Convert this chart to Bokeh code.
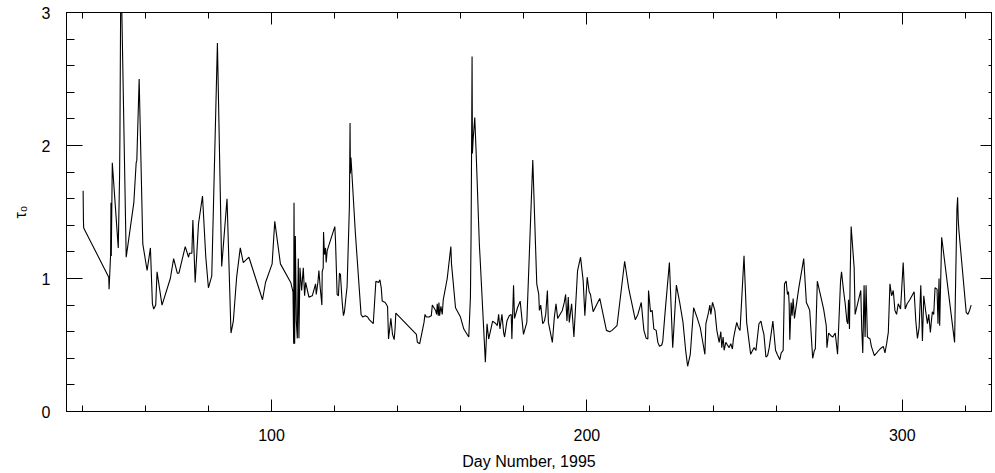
from bokeh.plotting import figure
from bokeh.models import LinearAxis, SingleIntervalTicker, Range1d, CustomLabelingPolicy
from bokeh.embed import file_html
from bokeh.resources import INLINE

days = [
    40.27, 40.37, 40.45, 48.40, 48.50, 48.99, 49.10, 49.20, 49.52, 51.41,
    51.83, 51.94, 52.25, 53.93, 56.35, 57.09, 57.30, 58.04, 59.19, 60.56,
    61.61, 62.24, 62.66, 63.29, 63.71, 65.29, 67.92, 68.97, 70.13, 70.65,
    72.65, 73.70, 74.00, 74.75, 75.07, 75.80, 76.85, 78.12, 79.17, 80.00,
    81.06, 82.85, 84.21, 85.90, 87.16, 87.90, 88.95, 90.10, 91.05, 92.84,
    97.15, 98.10, 100.20, 101.04, 102.83, 106.10, 106.82, 107.03, 107.14, 107.35,
    107.56, 107.87, 108.19, 108.50, 108.70, 109.03, 109.55, 110.08, 110.50, 110.82,
    111.87, 112.93, 113.98, 114.19, 114.71, 115.03, 115.45, 115.98, 116.08, 116.40,
    116.50, 116.80, 117.13, 117.34, 117.66, 120.08, 120.29, 120.81, 121.23, 121.55,
    121.86, 122.39, 122.81, 123.13, 123.65, 123.97, 124.70, 124.91, 125.02, 125.20,
    126.60, 128.40, 128.90, 129.75, 130.49, 131.00, 132.27, 133.10, 133.96, 134.38,
    134.80, 135.11, 136.06, 136.80, 137.11, 137.85, 138.37, 138.90, 139.20, 139.42,
    145.94, 146.26, 147.00, 148.36, 148.67, 149.09, 149.93, 150.67, 150.99, 151.51,
    152.04, 152.35, 152.56, 152.88, 153.09, 153.30, 153.72, 154.14, 154.46, 155.72,
    156.87, 157.08, 158.35, 159.92, 160.98, 162.55, 163.08, 163.29, 163.50, 163.60,
    163.71, 163.92, 164.45, 164.87, 165.92, 166.13, 167.81, 168.34, 168.86, 170.12,
    171.18, 171.60, 172.02, 172.44, 173.07, 173.60, 173.91, 174.65, 175.38, 176.01,
    176.22, 176.75, 177.06, 178.01, 178.85, 179.90, 180.96, 182.85, 184.11, 184.74,
    184.95, 185.37, 186.00, 186.53, 186.95, 187.48, 187.80, 189.06, 189.69, 190.21,
    190.74, 191.47, 192.21, 192.84, 193.26, 193.68, 194.10, 194.42, 195.16, 195.89,
    197.05, 198.00, 198.84, 199.36, 200.10, 200.73, 201.15, 201.99, 203.04, 204.09,
    206.20, 207.25, 207.98, 209.56, 211.98, 213.24, 213.66, 215.34, 216.18, 217.24,
    218.08, 218.81, 219.34, 219.55, 220.18, 220.71, 221.23, 221.97, 222.50, 223.02,
    223.75, 224.07, 224.80, 226.17, 227.22, 228.38, 229.43, 230.48, 231.32, 231.95,
    232.79, 233.85, 234.90, 235.95, 236.69, 237.42, 237.74, 238.58, 239.00, 239.31,
    239.84, 240.58, 241.21, 241.94, 242.47, 242.78, 243.20, 243.52, 244.05, 244.57,
    245.10, 245.62, 246.15, 246.46, 246.99, 247.52, 248.04, 248.57, 249.83, 250.67,
    251.93, 252.98, 253.62, 254.56, 255.19, 255.72, 256.14, 256.77, 257.30, 257.82,
    258.98, 259.82, 260.35, 261.19, 261.61, 262.24, 262.66, 263.19, 263.61, 263.93,
    264.14, 264.35, 264.77, 265.08, 265.40, 265.82, 267.20, 268.76, 269.60, 270.34,
    270.66, 271.60, 272.13, 272.44, 273.07, 274.02, 275.07, 275.91, 276.12, 276.65,
    277.38, 278.00, 278.75, 279.49, 280.43, 280.75, 281.38, 281.91, 282.43, 282.75,
    282.96, 283.27, 283.48, 283.80, 284.75, 285.06, 286.85, 287.16, 287.48, 287.90,
    288.22, 288.53, 288.95, 289.79, 290.21, 291.16, 292.95, 294.00, 294.52, 295.05,
    295.58, 296.10, 296.63, 297.15, 297.68, 298.20, 298.73, 299.47, 300.30, 300.93,
    301.56, 302.40, 303.77, 304.30, 304.82, 305.35, 305.88, 306.40, 306.82, 307.45,
    307.98, 308.40, 308.92, 309.24, 309.56, 309.98, 310.40, 311.03, 311.34, 311.66,
    311.87, 312.50, 316.60, 316.81, 317.34, 317.55, 317.76, 317.97, 320.28, 320.81,
    321.33, 321.86,
]

tau0 = [
    1.66, 1.44, 1.38, 1.01, 0.92, 1.18, 1.57, 1.17, 1.87, 1.23,
    1.77, 2.06, 3.40, 1.16, 1.57, 1.87, 1.89, 2.50, 1.26, 1.06,
    1.23, 0.81, 0.77, 0.80, 1.05, 0.80, 1.00, 1.15, 1.04, 1.04,
    1.24, 1.16, 1.19, 1.19, 1.44, 0.97, 1.41, 1.62, 1.16, 0.93,
    1.02, 2.77, 1.09, 1.60, 0.59, 0.68, 1.01, 1.23, 1.12, 1.16,
    0.84, 0.97, 1.11, 1.43, 1.11, 0.97, 0.90, 0.51, 1.57, 0.51,
    1.32, 0.68, 0.55, 1.15, 0.55, 1.08, 0.91, 1.08, 0.87, 0.97,
    0.86, 0.87, 0.96, 0.88, 0.97, 1.06, 0.93, 0.80, 1.05, 1.08,
    1.35, 1.18, 1.23, 1.12, 1.21, 1.39, 1.29, 0.88, 0.87, 1.04,
    1.03, 0.83, 0.72, 0.75, 0.87, 0.94, 1.54, 2.17, 1.79, 1.91,
    1.34, 0.73, 0.71, 0.72, 0.71, 0.69, 0.66, 0.98, 0.97, 0.99,
    0.93, 0.83, 0.82, 0.79, 0.545, 0.70, 0.58, 0.54, 0.63, 0.74,
    0.58, 0.52, 0.51, 0.67, 0.73, 0.71, 0.71, 0.72, 0.80, 0.78,
    0.76, 0.73, 0.81, 0.72, 0.82, 0.72, 0.79, 0.73, 0.84, 1.00,
    1.24, 1.11, 0.78, 0.71, 0.62, 0.56, 0.86, 1.34, 2.21, 2.67,
    1.94, 2.04, 2.21, 1.96, 1.25, 1.16, 0.37, 0.66, 0.545, 0.68,
    0.66, 0.645, 0.73, 0.62, 0.73, 0.595, 0.56, 0.68, 0.72, 0.73,
    0.545, 0.95, 0.70, 0.78, 0.83, 0.58, 0.67, 1.89, 0.96, 0.88,
    0.76, 0.80, 0.66, 0.68, 0.73, 0.91, 0.67, 0.52, 0.71, 0.81,
    0.70, 0.73, 0.76, 0.82, 0.88, 0.68, 0.86, 0.67, 0.81, 0.56,
    1.06, 1.16, 0.98, 0.72, 1.01, 0.90, 0.88, 0.75, 0.80, 0.85,
    0.61, 0.60, 0.61, 0.645, 1.13, 0.93, 0.88, 0.69, 0.73, 0.82,
    0.61, 0.55, 0.545, 0.91, 0.75, 0.76, 0.62, 0.61, 0.52, 0.49,
    0.50, 0.53, 0.745, 1.12, 0.48, 0.95, 0.82, 0.67, 0.46, 0.34,
    0.43, 0.78, 0.71, 0.63, 0.53, 0.43, 0.66, 0.745, 0.80, 0.73,
    0.82, 0.76, 0.61, 0.52, 0.60, 0.48, 0.56, 0.46, 0.52, 0.50,
    0.48, 0.51, 0.47, 0.545, 0.61, 0.67, 0.63, 0.61, 1.17, 0.67,
    0.43, 0.48, 0.46, 0.66, 0.68, 0.62, 0.58, 0.41, 0.42, 0.48,
    0.68, 0.46, 0.43, 0.39, 0.44, 0.46, 0.96, 0.98, 0.88, 0.90,
    0.81, 0.54, 0.82, 0.72, 0.85, 0.70, 0.93, 1.15, 0.82, 0.78,
    0.76, 0.40, 0.46, 0.47, 0.98, 0.88, 0.77, 0.645, 0.48, 0.59,
    0.57, 0.56, 0.59, 0.43, 0.98, 1.05, 0.91, 0.81, 0.68, 0.66,
    0.84, 0.62, 1.01, 1.39, 1.08, 0.73, 0.91, 0.62, 0.44, 0.95,
    0.56, 0.95, 0.56, 0.545, 0.49, 0.42, 0.47, 0.49, 0.44, 0.51,
    0.595, 0.96, 0.87, 0.91, 0.76, 0.73, 0.81, 0.77, 1.12, 0.77,
    0.81, 0.84, 0.90, 0.68, 0.55, 0.63, 0.95, 0.53, 0.87, 0.75,
    0.66, 0.73, 0.595, 0.68, 0.75, 0.73, 0.93, 0.92, 0.66, 1.00,
    0.645, 1.31, 0.52, 0.82, 1.52, 1.61, 1.44, 1.36, 0.745, 0.73,
    0.76, 0.80,
]

x_label = "Day Number, 1995"
y_label = "\u03c4\u2080"
x_major_interval = 100
y_major_interval = 1

FONT = "Liberation Sans"
FS = "16px"

p = figure(width=995, height=473, output_backend="svg", toolbar_location=None,
           x_range=Range1d(35.0, 328.3), y_range=Range1d(0, 3),
           min_border_left=66, min_border_right=0, min_border_top=12,
           min_border_bottom=62, background_fill_color="white",
           border_fill_color="white")
p.grid.visible = False
p.outline_line_color = "black"
p.outline_line_width = 1

p.line(days, tau0, line_color="black", line_width=1.1)

xa = p.xaxis[0]
xa.ticker = SingleIntervalTicker(interval=x_major_interval, num_minor_ticks=5)
xa.major_tick_in = 12
xa.major_tick_out = 0
xa.minor_tick_in = 6
xa.minor_tick_out = 0
xa.major_label_standoff = 17
xa.axis_label = x_label
xa.axis_label_standoff = 9
ya = p.yaxis[0]
ya.ticker = SingleIntervalTicker(interval=y_major_interval, num_minor_ticks=5)
ya.major_tick_in = 16
ya.major_tick_out = 0
ya.minor_tick_in = 8
ya.minor_tick_out = 0
ya.major_label_standoff = 16
ya.axis_label = y_label
ya.axis_label_standoff = 10

for ax in (xa, ya):
    ax.axis_line_color = "black"
    ax.major_tick_line_color = "black"
    ax.minor_tick_line_color = "black"
    ax.major_label_text_font = FONT
    ax.major_label_text_font_size = FS
    ax.major_label_text_color = "black"
    ax.axis_label_text_font = FONT
    ax.axis_label_text_font_size = FS
    ax.axis_label_text_font_style = "normal"
    ax.axis_label_text_color = "black"

no_labels = "for (const i of indices) { indices.unset(i) }\nreturn indices"

top = LinearAxis(ticker=SingleIntervalTicker(interval=x_major_interval, num_minor_ticks=5),
                 major_tick_in=12, major_tick_out=0, minor_tick_in=6, minor_tick_out=0,
                 major_label_text_font_size="1px", major_label_standoff=0,
                 major_label_policy=CustomLabelingPolicy(code=no_labels),
                 axis_line_color="black")
p.add_layout(top, "above")
right = LinearAxis(ticker=SingleIntervalTicker(interval=y_major_interval, num_minor_ticks=5),
                   major_tick_in=11, major_tick_out=0, minor_tick_in=3, minor_tick_out=0,
                   major_label_text_font_size="1px", major_label_standoff=0,
                   major_label_policy=CustomLabelingPolicy(code=no_labels),
                   axis_line_color="black")
p.add_layout(right, "right")

open("out.html", "w").write(file_html(p, INLINE))
